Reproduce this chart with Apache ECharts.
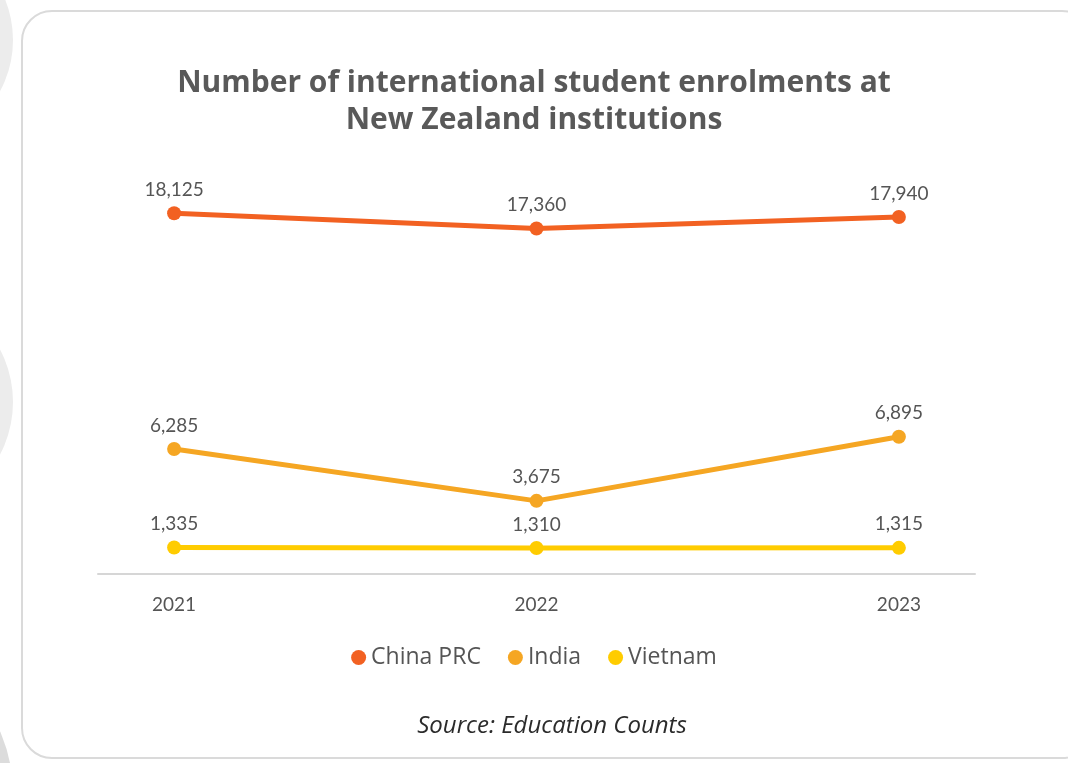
<!DOCTYPE html>
<html>
<head>
<meta charset="utf-8">
<title>International student enrolments</title>
<script src="https://cdn.jsdelivr.net/npm/echarts@6/dist/echarts.min.js"></script>
<style>
  html, body { margin: 0; padding: 0; background: #ffffff; }
  #chart { width: 1068px; height: 763px; }
</style>
</head>
<body>
<div id="chart"></div>
<script>
// Enrolment counts by year for the three largest source countries
const years = [2021, 2022, 2023];
const seriesNames = ['China PRC', 'India', 'Vietnam'];
const chinaValues = [18125, 17360, 17940];
const indiaValues = [6285, 3675, 6895];
const vietnamValues = [1335, 1310, 1315];
const seriesColors = ['#F26122', '#F5A623', '#FFCC00'];

const allValues = [chinaValues, indiaValues, vietnamValues];

const textGrey = '#555555';
const labelFont = 'Lato, "Open Sans", sans-serif';
const wideFont = '"Open Sans", Lato, sans-serif';

const chart = echarts.init(document.getElementById('chart'), null, { renderer: 'canvas' });

const series = seriesNames.map((name, i) => ({
  name: name,
  type: 'line',
  data: years.map((y, j) => [y, allValues[i][j]]),
  symbol: 'circle',
  symbolSize: 14,
  lineStyle: { width: 5, color: seriesColors[i] },
  itemStyle: { color: seriesColors[i] },
  label: {
    show: true,
    position: 'top',
    distance: 7,
    color: textGrey,
    fontFamily: labelFont,
    fontSize: 19,
    formatter: p => p.value[1].toLocaleString('en-US')
  },
  emphasis: { disabled: true },
  z: 3 + (2 - i)
}));

chart.setOption({
  animation: false,
  backgroundColor: '#ffffff',
  graphic: [
    // soft grey discs along the left page edge
    { type: 'circle', shape: { cx: -95, cy: 40, r: 108 }, style: { fill: '#ececec' }, z: -10 },
    { type: 'circle', shape: { cx: -100, cy: 402, r: 113 }, style: { fill: '#ececec' }, z: -10 },
    { type: 'circle', shape: { cx: -140, cy: 793, r: 153 }, style: { fill: '#dcdcdc' }, z: -10 },
    // card outline
    {
      type: 'rect',
      shape: { x: 22, y: 11, width: 1070, height: 747, r: 30 },
      style: { fill: '#ffffff', stroke: '#dadada', lineWidth: 2 },
      z: -5
    },
    // source note under the legend
    {
      type: 'text',
      x: 552,
      y: 726,
      style: {
        text: 'Source: Education Counts',
        fill: '#2b2b2b',
        font: 'italic 24px "Open Sans", Lato, sans-serif',
        align: 'center',
        verticalAlign: 'middle'
      }
    }
  ],
  title: {
    text: 'Number of international student enrolments at\nNew Zealand institutions',
    left: 'center',
    top: 60,
    textStyle: {
      color: '#595959',
      fontFamily: wideFont,
      fontWeight: 'bold',
      fontSize: 30,
      lineHeight: 37
    }
  },
  legend: {
    data: seriesNames,
    bottom: 89,
    left: 'center',
    icon: 'circle',
    itemWidth: 15,
    itemHeight: 15,
    itemGap: 27,
    textStyle: { color: textGrey, fontFamily: wideFont, fontSize: 23, padding: [0, 0, 0, 0] }
  },
  grid: { left: 98, right: 93, top: 176, bottom: 189 },
  xAxis: {
    type: 'value',
    min: 2020.79,
    max: 2023.21,
    axisLine: { show: true, lineStyle: { color: '#d6d6d6', width: 2 } },
    axisTick: { show: false },
    splitLine: { show: false },
    axisLabel: {
      customValues: years,
      formatter: v => String(v),
      color: textGrey,
      fontFamily: labelFont,
      fontSize: 19,
      margin: 21
    }
  },
  yAxis: {
    type: 'value',
    min: 0,
    max: 20000,
    show: false,
    splitLine: { show: false }
  },
  series: series
});
</script>
</body>
</html>
